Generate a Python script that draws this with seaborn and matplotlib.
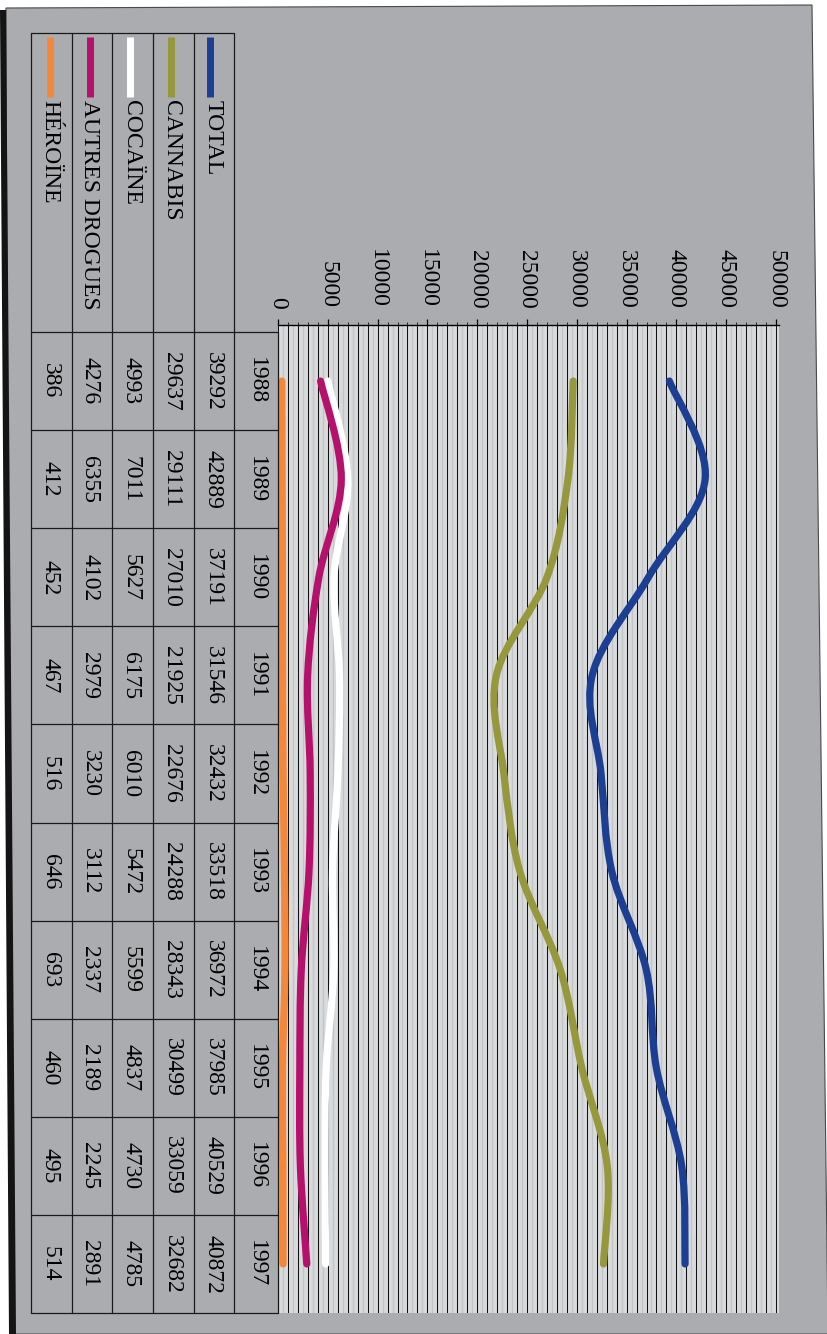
import numpy as np
import pandas as pd
import matplotlib
matplotlib.use("Agg")
import matplotlib.pyplot as plt
import matplotlib.transforms as mtransforms
from matplotlib.path import Path
from matplotlib.patches import PathPatch, Polygon
from matplotlib.lines import Line2D
import seaborn as sns

# ---- data -------------------------------------------------------------
years = [1988, 1989, 1990, 1991, 1992, 1993, 1994, 1995, 1996, 1997]
total = [39292, 42889, 37191, 31546, 32432, 33518, 36972, 37985, 40529, 40872]
cannabis = [29637, 29111, 27010, 21925, 22676, 24288, 28343, 30499, 33059, 32682]
cocaine = [4993, 7011, 5627, 6175, 6010, 5472, 5599, 4837, 4730, 4785]
autres = [4276, 6355, 4102, 2979, 3230, 3112, 2337, 2189, 2245, 2891]
heroine = [386, 412, 452, 467, 516, 646, 693, 460, 495, 514]
series_names = ["TOTAL", "CANNABIS", "COCAÏNE", "AUTRES DROGUES", "HÉROÏNE"]
series_values = [total, cannabis, cocaine, autres, heroine]
value_ticks = list(range(0, 50001, 5000))

colors = ["#1d3f93", "#97973c", "#ffffff", "#b5106c", "#f4873a"]
PANEL = "#aaacaf"
PLOT_BG = "#d9dadb"

sns.set_theme(style="white")
plt.rcParams["font.family"] = ["Liberation Serif", "DejaVu Serif"]
FS = 17

W, H = 828, 1334
fig = plt.figure(figsize=(W / 100, H / 100), dpi=100, facecolor="white")


def fx(px):
    return px / W


def fy(py):
    return 1 - py / H


def fxy(pts):
    return [(fx(a), fy(b)) for a, b in pts]


# page background: grey card with a dark left shadow
fig.add_artist(Polygon(fxy([(6, 8), (812, 5), (828, 1334), (10, 1334)]),
                       closed=True, transform=fig.transFigure, facecolor=PANEL,
                       edgecolor="#4a4a4a", lw=0.8, zorder=0))
fig.add_artist(Polygon(fxy([(0, 10), (6, 10), (16, 1334), (9, 1334)]),
                       closed=True, transform=fig.transFigure,
                       facecolor="#141414", edgecolor="none", zorder=0))

DX = 4  # horizontal offset of the whole chart block
row_top, row_bot = 332, 1313
band = (row_bot - row_top) / len(years)
plot_l, plot_r, plot_t = 274 + DX, 775 + DX, 325
zero_x, full_x = 274 + DX, 772 + DX
ax = fig.add_axes([fx(plot_l), fy(row_bot), fx(plot_r) - fx(plot_l), fy(plot_t) - fy(row_bot)])
ax.set_facecolor(PLOT_BG)
ax.set_xlim(0, 50000 * (plot_r - plot_l) / (full_x - zero_x))
ax.set_ylim(len(years) - 0.5, -0.5 - (row_top - plot_t) / band)

pos = np.arange(len(years))
df = pd.DataFrame({
    "pos": np.tile(pos, len(series_names)),
    "value": np.concatenate(series_values),
    "series": np.repeat(series_names, len(years)),
})
sns.lineplot(data=df, x="value", y="pos", hue="series", hue_order=series_names,
             palette=colors, sort=False, estimator=None, orient="y",
             lw=5, legend=False, ax=ax)


def smooth_path(xy):
    """Catmull-Rom style cubic Bezier through the given vertices."""
    pts = np.asarray(xy, float)
    ext = np.vstack([pts[0], pts, pts[-1]])
    verts = [pts[0]]
    codes = [Path.MOVETO]
    for i in range(len(pts) - 1):
        p0, p1, p2, p3 = ext[i], ext[i + 1], ext[i + 2], ext[i + 3]
        c1 = p1 + (p2 - p0) / 6.0
        c2 = p2 - (p3 - p1) / 6.0
        verts += [c1, c2, p2]
        codes += [Path.CURVE4] * 3
    return Path(verts, codes)


for line in list(ax.lines):
    patch = PathPatch(smooth_path(line.get_xydata()), facecolor="none",
                      edgecolor=line.get_color(), lw=5.2, capstyle="round",
                      joinstyle="round", zorder=3)
    ax.add_patch(patch)
    line.remove()

ax.set_xlabel("")
ax.set_ylabel("")

# value axis on top, labels turned with the page
ax.xaxis.tick_top()
ax.set_xticks(value_ticks)
ax.set_xticklabels([str(v) for v in value_ticks])
ax.set_xticks(np.arange(0, 50001, 1000), minor=True)
ax.set_yticks([])
ax.tick_params(axis="x", which="major", direction="out", length=4, width=0.9,
               pad=8, labelrotation=-90, labelsize=FS, colors="black")
ax.tick_params(axis="x", which="minor", direction="out", length=2, width=0.7,
               top=True, bottom=False)
ax.grid(which="both", axis="x", color="#111111", lw=0.75)
ax.vlines(np.arange(500, 50000, 1000), -0.6, len(years) - 0.5,
          color="#c3c4c6", lw=1.0, zorder=0.5)
ax.set_axisbelow(True)
for side in ["right", "bottom", "left"]:
    ax.spines[side].set_visible(False)
ax.spines["top"].set_color("black")
ax.spines["top"].set_linewidth(1.0)

# data table to the left of the plot
blend = mtransforms.blended_transform_factory(fig.transFigure, ax.transData)
col_edges = [e + DX for e in [27, 68, 108, 149, 190, 230, 274]]
head_top = 33
lk = dict(color="#1a1a1a", lw=0.9)
for b in np.arange(-0.5, len(years)):
    fig.add_artist(Line2D([fx(col_edges[0]), fx(col_edges[-1])], [b, b],
                          transform=blend, **lk))
fig.add_artist(Line2D([fx(col_edges[0]), fx(col_edges[-2])], [fy(head_top)] * 2,
                      transform=fig.transFigure, **lk))
for xe in col_edges[:-1]:
    fig.add_artist(Line2D([fx(xe)] * 2, [fy(head_top), fy(row_bot)],
                          transform=fig.transFigure, **lk))
fig.add_artist(Line2D([fx(col_edges[-1])] * 2, [fy(row_top), fy(row_bot)],
                      transform=fig.transFigure, **lk))

year_x = 252 + DX
value_x = [x + DX for x in [209, 168, 127, 86, 46]]
marker_x = [x + DX for x in [206, 167, 126, 86, 46]]

for i, yr in enumerate(years):
    ax.text(fx(year_x), i, str(yr), transform=blend, rotation=-90,
            ha="center", va="center", fontsize=FS, color="black")

for name, vals, col, vx, mx in zip(series_names, series_values, colors, value_x, marker_x):
    fig.add_artist(Line2D([fx(mx)] * 2, [fy(37), fy(97)], transform=fig.transFigure,
                          color=col, lw=5, solid_capstyle="butt"))
    fig.text(fx(vx), fy(100), name, rotation=-90, ha="center", va="top",
             fontsize=FS, color="black")
    for i, v in enumerate(vals):
        ax.text(fx(vx), i, str(v), transform=blend, rotation=-90,
                ha="center", va="center", fontsize=FS, color="black")

fig.savefig("out.png", dpi=100, facecolor="white")
